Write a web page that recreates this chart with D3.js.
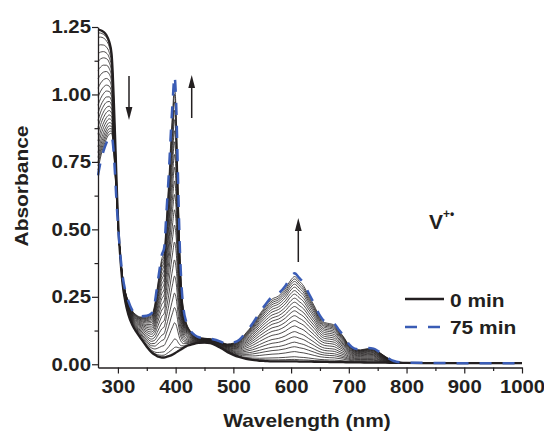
<!DOCTYPE html>
<html>
<head>
<meta charset="utf-8">
<script src="https://cdn.jsdelivr.net/npm/d3@7"></script>
<style>
  html, body { margin: 0; padding: 0; background: #fff; }
  svg { display: block; }
  text { font-family: "Liberation Sans", Arial, Helvetica, sans-serif; font-weight: bold; fill: #231f20; }
</style>
</head>
<body>
<svg id="chart" width="544" height="431"></svg>
<script>
// ---------------- data ----------------
const wavelengths = [265.5,270,275,280,285,289,291,293,295,297,299,301,304,308,313,318,325,332,340,350,358,364,368,372,376,380,384,388,392,395,398,401,404,407,410,414,418,424,432,440,450,460,470,480,490,500,510,522,533,545,555,567,578,590,600,606,614,622,630,640,650,658,667,675,683,690,700,710,720,733,743,752,763,778,790,800,850,900,950,1000];
const abs0min = [1.240,1.238,1.232,1.220,1.195,1.150,1.080,0.970,0.850,0.720,0.600,0.500,0.400,0.300,0.230,0.185,0.145,0.120,0.095,0.065,0.045,0.035,0.030,0.027,0.025,0.025,0.027,0.030,0.033,0.036,0.040,0.044,0.048,0.052,0.056,0.061,0.066,0.071,0.076,0.079,0.080,0.078,0.070,0.058,0.045,0.035,0.027,0.020,0.016,0.013,0.012,0.011,0.011,0.011,0.011,0.011,0.010,0.010,0.010,0.009,0.009,0.009,0.008,0.008,0.008,0.008,0.007,0.007,0.007,0.006,0.006,0.006,0.006,0.005,0.005,0.005,0.004,0.004,0.004,0.004];
const abs75min = [0.700,0.750,0.790,0.820,0.840,0.845,0.825,0.775,0.705,0.625,0.555,0.490,0.410,0.330,0.270,0.235,0.200,0.185,0.178,0.180,0.188,0.230,0.290,0.350,0.405,0.430,0.560,0.700,0.870,0.980,1.067,0.960,0.700,0.450,0.300,0.200,0.160,0.130,0.110,0.100,0.097,0.095,0.090,0.082,0.076,0.080,0.090,0.120,0.150,0.190,0.220,0.250,0.262,0.290,0.325,0.337,0.320,0.300,0.265,0.225,0.180,0.160,0.156,0.150,0.127,0.108,0.075,0.058,0.055,0.060,0.058,0.047,0.030,0.012,0.007,0.006,0.005,0.004,0.004,0.004];
// absorbance of each intermediate spectrum at the 606 nm band maximum
const intermediatePeak = [0.018,0.028,0.047,0.065,0.082,0.102,0.121,0.142,0.162,0.180,0.198,0.214,0.230,0.245,0.260,0.273,0.286,0.297,0.307,0.316,0.325];
const xTicks = [300,400,500,600,700,800,900,1000];
const xMinorTicks = [350,450,550,650,750,850,950];
const yTicks = [0.00,0.25,0.50,0.75,1.00,1.25];
const yMinorTicks = [0.125,0.375,0.625,0.875,1.125];
const legendLabels = ["0 min","75 min"];
const xTitle = "Wavelength (nm)";
const yTitle = "Absorbance";

// ---------------- chart ----------------
const svg = d3.select("#chart");
const x = d3.scaleLinear().domain([265.5, 1000]).range([98, 522]);
const y = d3.scaleLinear().domain([-0.012, 1.25]).range([367.5, 27]);

const blue = "#3a5cb5";
const ink = "#231f20";
const STRETCH = 1.1; // glyphs in the reference are a little wider than Arial

const line = d3.line().x(d => x(d[0])).y(d => y(d[1])).curve(d3.curveMonotoneX);

const peakIdx = wavelengths.indexOf(606);
const a0 = abs0min[peakIdx], a1 = abs75min[peakIdx];

svg.append("defs").append("clipPath").attr("id","clip")
  .append("rect").attr("x",97).attr("y",0).attr("width",431).attr("height",367.5);

const plot = svg.append("g").attr("clip-path","url(#clip)");

// intermediate spectra
intermediatePeak.forEach(p => {
  const f = (p - a0) / (a1 - a0);
  const pts = wavelengths.map((w, i) => [w, abs0min[i] + f * (abs75min[i] - abs0min[i])]);
  plot.append("path").attr("d", line(pts))
    .attr("fill","none").attr("stroke", ink).attr("stroke-width", 0.8);
});
// 0 min
plot.append("path").attr("d", line(wavelengths.map((w,i)=>[w, abs0min[i]])))
  .attr("fill","none").attr("stroke", ink).attr("stroke-width", 2.3);
// 75 min
plot.append("path").attr("d", line(wavelengths.map((w,i)=>[w, abs75min[i]])))
  .attr("fill","none").attr("stroke", blue).attr("stroke-width", 2.5)
  .attr("stroke-dasharray","12,11");

// axes
function styleAxis(g, fs) {
  g.selectAll("path.domain").attr("stroke", ink).attr("stroke-width", 1.3);
  g.selectAll(".tick line").attr("stroke", ink).attr("stroke-width", 1.2);
  g.selectAll(".tick text").attr("font-size", fs).attr("font-family", null).attr("fill", ink);
}
const xAxis = svg.append("g").attr("transform","translate(0,367.5)")
  .call(d3.axisBottom(x).tickValues(xTicks).tickFormat(d3.format("d")).tickSize(6).tickPadding(6.5).tickSizeOuter(0));
styleAxis(xAxis, 18.5);
const xMinor = svg.append("g").attr("transform","translate(0,367.5)")
  .call(d3.axisBottom(x).tickValues(xMinorTicks).tickFormat("").tickSize(3.5).tickSizeOuter(0));
xMinor.select("path.domain").remove();
styleAxis(xMinor, 18.5);

const yAxis = svg.append("g").attr("transform","translate(98,0)")
  .call(d3.axisLeft(y).tickValues(yTicks).tickFormat(d3.format(".2f")).tickSize(6).tickPadding(1).tickSizeOuter(0));
styleAxis(yAxis, 18.5);
const yMinor = svg.append("g").attr("transform","translate(98,0)")
  .call(d3.axisLeft(y).tickValues(yMinorTicks).tickFormat("").tickSize(3.5).tickSizeOuter(0));
yMinor.select("path.domain").remove();
styleAxis(yMinor, 18.5);

// axis titles
svg.append("text").attr("x", 307).attr("y", 427).attr("text-anchor","middle")
  .attr("font-size", 19).text(xTitle);
svg.append("text").attr("transform","translate(28,186) rotate(-90)").attr("text-anchor","middle")
  .attr("font-size", 19).text(yTitle);

// arrows
function arrow(xp, yTail, yTip) {
  const dir = yTip < yTail ? 1 : -1;
  const headLen = 13, headW = 3.4;
  svg.append("line").attr("x1", xp).attr("x2", xp).attr("y1", yTail).attr("y2", yTip + dir*headLen*0.8)
    .attr("stroke", ink).attr("stroke-width", 1.5);
  svg.append("path")
    .attr("d", `M${xp},${yTip} L${xp-headW},${yTip+dir*headLen} L${xp+headW},${yTip+dir*headLen} Z`)
    .attr("fill", ink);
}
arrow(129, 76, 120);
arrow(191.7, 118, 75);
arrow(298.3, 262, 218);

// species label
const lab = svg.append("text").attr("x", 429).attr("y", 229).attr("font-size", 21);
lab.append("tspan").text("V");
lab.append("tspan").attr("dy", -11).attr("font-size", 12).text("+•");

// legend
svg.append("line").attr("x1",405).attr("x2",444).attr("y1",299).attr("y2",299)
  .attr("stroke", ink).attr("stroke-width", 2.3);
svg.append("text").attr("x",450).attr("y",306.5).attr("font-size",19).text(legendLabels[0]);
svg.append("line").attr("x1",405).attr("x2",441).attr("y1",327).attr("y2",327)
  .attr("stroke", blue).attr("stroke-width", 2.5).attr("stroke-dasharray","12,11");
svg.append("text").attr("x",450).attr("y",334).attr("font-size",19).text(legendLabels[1]);

// widen all plain text runs slightly to match the reference glyph proportions
svg.selectAll("text").each(function() {
  if (this.querySelector("tspan")) return;
  const len = this.getComputedTextLength();
  if (len > 0) d3.select(this).attr("textLength", len * STRETCH).attr("lengthAdjust", "spacingAndGlyphs");
});
</script>
</body>
</html>
